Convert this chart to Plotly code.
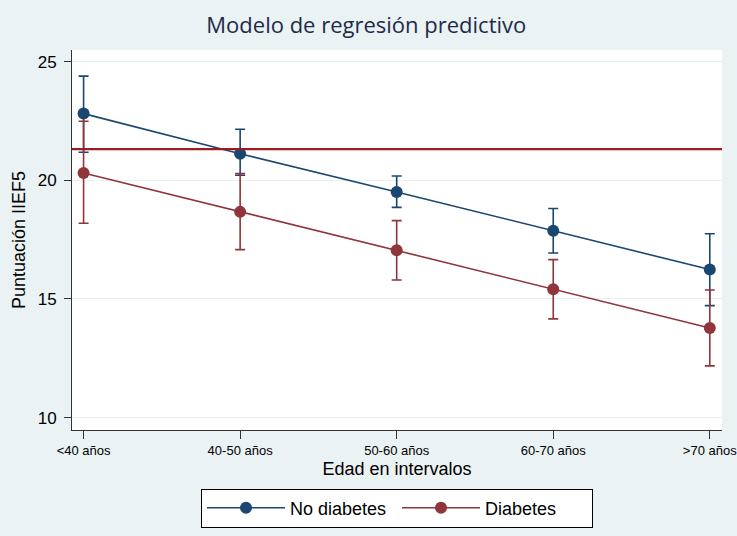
import plotly.graph_objects as go

categories = ["<40 años", "40-50 años", "50-60 años", "60-70 años", ">70 años"]
no_diab = [22.81, 21.12, 19.51, 17.87, 16.24]
no_diab_hi = [24.39, 22.15, 20.18, 18.81, 17.75]
no_diab_lo = [21.18, 20.21, 18.86, 16.94, 14.72]
diab = [20.31, 18.67, 17.05, 15.41, 13.78]
diab_hi = [22.49, 20.28, 18.30, 16.66, 15.38]
diab_lo = [18.19, 17.08, 15.80, 14.16, 12.18]
reference_line = 21.31
y_ticks = [10, 15, 20, 25]

BLUE = "#1A476F"
RED = "#90353B"
BG = "#EAF2F3"
FONT = "Liberation Sans, Arial, sans-serif"

xpos = list(range(len(categories)))

def series(name, y, hi, lo, color):
    return go.Scatter(
        x=xpos, y=y, name=name, mode="lines+markers",
        line=dict(color=color, width=1.6),
        marker=dict(color=color, size=12),
        error_y=dict(type="data", symmetric=False,
                     array=[h - v for h, v in zip(hi, y)],
                     arrayminus=[v - l for v, l in zip(y, lo)],
                     color=color, thickness=1.6, width=5),
    )

fig = go.Figure()
fig.add_trace(series("No diabetes", no_diab, no_diab_hi, no_diab_lo, BLUE))
fig.add_trace(series("Diabetes", diab, diab_hi, diab_lo, RED))

fig.add_shape(type="line", xref="paper", yref="y", x0=0, x1=1,
              y0=reference_line, y1=reference_line,
              line=dict(color="#9A1C22", width=2.2))

fig.update_layout(
    width=737, height=536,
    paper_bgcolor=BG, plot_bgcolor="white",
    margin=dict(l=72, r=15, t=50, b=106, autoexpand=False),
    font=dict(family=FONT, color="#000000"),
    title=dict(text="Modelo de regresión predictivo", x=0.497, xanchor="center",
               y=0.953, yanchor="middle",
               font=dict(size=22, color="#1E2B4A", family="Open Sans, sans-serif")),
    showlegend=True,
    legend=dict(orientation="h", x=0.5, xanchor="center", y=-0.154, yanchor="top",
                bgcolor="white", bordercolor="#000000", borderwidth=1,
                font=dict(size=18), itemwidth=78, entrywidth=102, tracegroupgap=0),
    xaxis=dict(range=[-0.074, 4.078], tickmode="array", tickvals=xpos,
               ticktext=categories, ticks="outside", ticklen=8, tickcolor="#333333",
               showline=True, linecolor="#333333", linewidth=1, showgrid=False,
               zeroline=False, ticklabeloverflow="allow", automargin=False,
               tickfont=dict(size=13),
               title=dict(text="Edad en intervalos", font=dict(size=18), standoff=5)),
    yaxis=dict(range=[9.48, 25.49], tickvals=y_ticks, ticks="outside", ticklen=7,
               tickcolor="#333333", showline=True, linecolor="#333333", linewidth=1,
               showgrid=True, gridcolor="#EAF0F1", gridwidth=1, zeroline=False,
               tickfont=dict(size=17), automargin=False, ticklabelstandoff=4,
               title=dict(text="Puntuación IIEF5", font=dict(size=18), standoff=7)),
)

fig.write_html("out.html", config={"displayModeBar": False},
               post_script="document.body.style.margin='0';")
